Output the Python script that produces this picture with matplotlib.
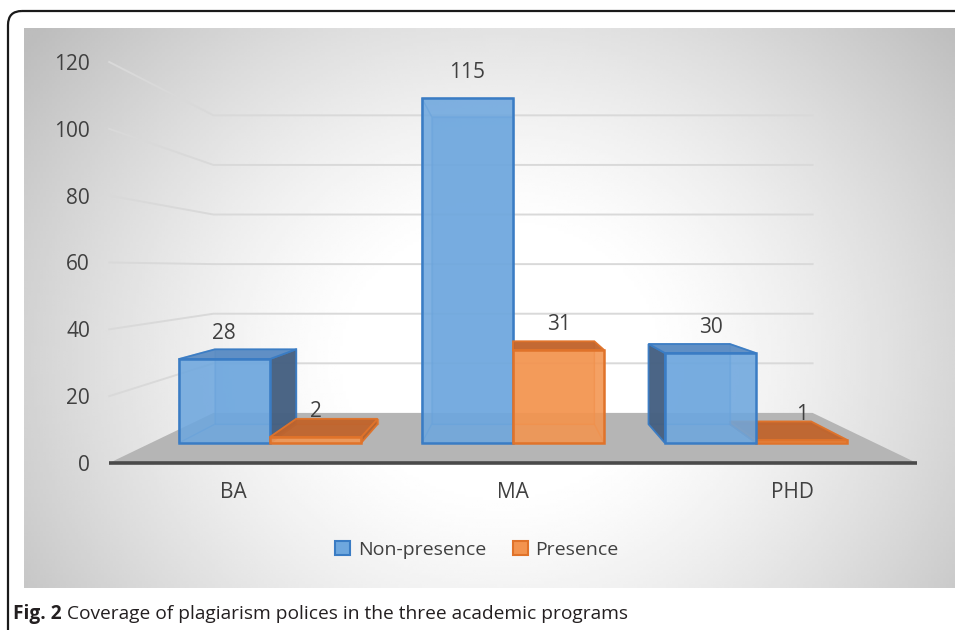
import numpy as np
import matplotlib.pyplot as plt
from matplotlib.patches import Polygon, Patch, FancyBboxPatch

# data
categories = ['BA', 'MA', 'PHD']
non_presence = [28, 115, 30]
presence = [2, 31, 1]
series_names = ['Non-presence', 'Presence']
y_ticks = [0, 20, 40, 60, 80, 100, 120]
caption_bold = 'Fig. 2'
caption_text = 'Coverage of plagiarism polices in the three academic programs'

plt.rcParams['font.family'] = ['Open Sans', 'DejaVu Sans']

W, H = 955, 630
fig = plt.figure(figsize=(W / 100, H / 100), dpi=100)
fig.patch.set_facecolor('white')

# simple perspective: world (category, value, depth ratio) -> axes data
vx, vy = 1.0, 58.1
r_front, r_back = 0.897, 0.80
r_floor = 0.742
half_w = 0.375
floor_x = (-0.49, 2.49)


def proj(x, y, r):
    return (vx + r * (x - vx), vy + r * (y - vy))


# pixel layout of the gray panel
px_cat, px_val = 271.0, 3.342
cx_px, y0_px = 513.0, 463.0
pl, pr, pt, pb = 24, 955, 28, 588


def px_to_x(p):
    return (p - cx_px) / px_cat + 1


def px_to_y(p):
    return (y0_px - p) / px_val


# frame around the figure (pixel coords overlay)
ax_bg = fig.add_axes([0, 0, 1, 1], zorder=0)
ax_bg.set_xlim(0, W)
ax_bg.set_ylim(H, 0)
ax_bg.axis('off')
ax_bg.add_patch(FancyBboxPatch((8, 11), 990, 680, boxstyle='round,pad=0,rounding_size=14',
                               fill=False, lw=1.6, ec='#1a1a1a'))

ax = fig.add_axes([pl / W, 1 - pb / H, (pr - pl) / W, (pb - pt) / H], zorder=1)
xlim = (px_to_x(pl), px_to_x(pr))
ylim = (px_to_y(pb), px_to_y(pt))
ax.set_xlim(*xlim)
ax.set_ylim(*ylim)
ax.set_frame_on(False)
ax.set_xticks([])

# radial background gradient
gx, gy = np.meshgrid(np.linspace(pl, pr, 320), np.linspace(pt, pb, 200))
d = np.sqrt(((gx - 500) / 480) ** 2 + ((gy - 360) / 420) ** 2)
g = np.clip((d - 0.3) / 0.94, 0, 1) ** 1.3
shade = (255 - 66 * g) / 255
ax.imshow(shade, cmap='gray', vmin=0, vmax=1, extent=(xlim[0], xlim[1], ylim[0], ylim[1]),
          origin='upper', aspect='auto', interpolation='bilinear', zorder=0)

# gridlines on left and back walls
for v in y_ticks[1:]:
    p1 = proj(floor_x[0], v, 1)
    p2 = proj(floor_x[0], v, r_floor)
    p3 = proj(floor_x[1], v, r_floor)
    ax.plot([p1[0], p2[0], p3[0]], [p1[1], p2[1], p3[1]], color='#d9d9d9', lw=1.4, zorder=1)

# floor
floor = [proj(floor_x[0], 0, 1), proj(floor_x[1], 0, 1),
         proj(floor_x[1], 0, r_floor), proj(floor_x[0], 0, r_floor)]
ax.add_patch(Polygon(floor, closed=True, fc='#b5b5b5', ec='none', zorder=2))
ax.plot(floor_x, [0, 0], color='#4a4a4a', lw=2.6, zorder=3, solid_capstyle='butt')

ax.set_yticks(y_ticks)
ax.tick_params(axis='y', length=0, pad=-47.5, labelsize=15, labelcolor='#404040')

styles = [
    dict(front='#6ea7de', side='#455f80', top='#5b8cc3', edge='#3a7cc4'),
    dict(front='#f3944f', side='#b5622c', top='#c0642c', edge='#e0732a'),
]

bars = []
for i in range(len(categories)):
    bars.append((i - half_w, non_presence[i], 0))
    bars.append((i, presence[i], 1))
# paint bars farther from the vanishing point first
bars.sort(key=lambda b: -abs(b[0] + half_w / 2 - vx))

z = 4
for x0, v, s in bars:
    x1 = x0 + half_w
    st = styles[s]
    P = proj
    back = [P(x0, 0, r_back), P(x1, 0, r_back), P(x1, v, r_back), P(x0, v, r_back)]
    front = [P(x0, 0, r_front), P(x1, 0, r_front), P(x1, v, r_front), P(x0, v, r_front)]
    top = [P(x0, v, r_front), P(x1, v, r_front), P(x1, v, r_back), P(x0, v, r_back)]
    bottom = [P(x0, 0, r_front), P(x1, 0, r_front), P(x1, 0, r_back), P(x0, 0, r_back)]
    left = [P(x0, 0, r_front), P(x0, v, r_front), P(x0, v, r_back), P(x0, 0, r_back)]
    right = [P(x1, 0, r_front), P(x1, v, r_front), P(x1, v, r_back), P(x1, 0, r_back)]

    ax.add_patch(Polygon(back, closed=True, fc=st['front'], ec=st['edge'], lw=1.0, alpha=0.45, zorder=z))
    ax.add_patch(Polygon(bottom, closed=True, fill=False, ec=st['edge'], lw=1.0, alpha=0.4, zorder=z))
    for face, vis in ((left, x0 > vx), (right, x1 < vx)):
        if vis:
            ax.add_patch(Polygon(face, closed=True, fc=st['side'], ec=st['edge'], lw=1.3, alpha=0.95, zorder=z + 0.1))
        else:
            ax.add_patch(Polygon(face, closed=True, fill=False, ec=st['edge'], lw=1.0, alpha=0.35, zorder=z + 0.1))
    if v < vy:
        ax.add_patch(Polygon(top, closed=True, fc=st['top'], ec=st['edge'], lw=1.3, alpha=0.95, zorder=z + 0.2))
    else:
        ax.add_patch(Polygon(top, closed=True, fill=False, ec=st['edge'], lw=1.0, alpha=0.35, zorder=z + 0.2))
    ax.add_patch(Polygon(front, closed=True, fc=st['front'], ec='none', alpha=0.88, zorder=z + 0.3))
    ax.add_patch(Polygon(front, closed=True, fill=False, ec=st['edge'], lw=1.8, zorder=z + 0.4))
    ax.annotate(str(v), xy=P(x0 + half_w / 2, v, r_front), xytext=(0, 18.5), textcoords='offset points',
                ha='center', va='center', fontsize=15, color='#404040', zorder=20)
    z += 1

# category labels
for i, name in enumerate(categories):
    ax.text(proj(i, 0, 1.03)[0], px_to_y(492), name, ha='center', va='center',
            fontsize=15, color='#404040', zorder=20)

handles = [Patch(fc=styles[k]['front'], ec=styles[k]['edge'], lw=1.5) for k in range(2)]
fig.legend(handles, series_names, loc='center', bbox_to_anchor=(477 / W, 1 - 550 / H), ncol=2,
           frameon=False, fontsize=14, handlelength=0.75, handleheight=0.75, handletextpad=0.4,
           columnspacing=1.4, labelcolor='#404040')

# caption
t1 = fig.text(13 / W, 1 - 619 / H, caption_bold, fontsize=13.8, weight='bold', va='baseline',
              color='#231f20')
fig.canvas.draw()
bb = t1.get_window_extent()
fig.text((bb.x1 + 5) / W, 1 - 619 / H, caption_text, fontsize=13.8, va='baseline', color='#231f20')

fig.savefig('out.png', dpi=100)
